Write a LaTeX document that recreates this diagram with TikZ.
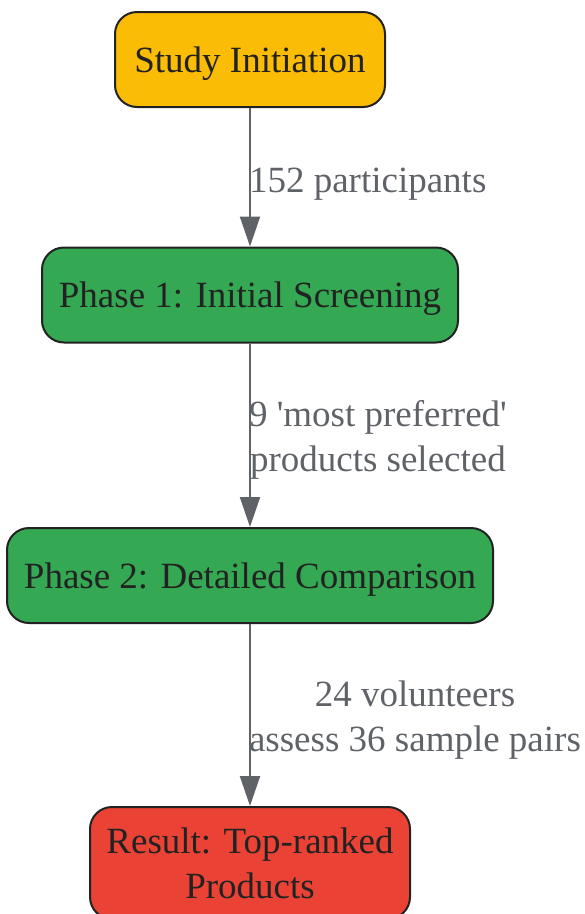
\documentclass[tikz,border=0pt]{standalone}
\usepackage{fontspec}
\setmainfont{Liberation Serif}
\usetikzlibrary{arrows.meta}
\definecolor{startyellow}{HTML}{FBBC05}
\definecolor{phasegreen}{HTML}{34A853}
\definecolor{resultred}{HTML}{EA4335}
\definecolor{edgegray}{HTML}{5F6368}
\definecolor{inkdark}{HTML}{222222}
\begin{document}
\begin{tikzpicture}[x=1pt, y=-1pt, >={Triangle[length=30pt,width=20pt]},
  font=\fontsize{37}{45}\selectfont, line join=round,
  stage/.style={draw=inkdark, line width=2pt, rounded corners=22pt, text=inkdark,
    align=center, minimum height=95pt, inner sep=0pt, text depth=0pt},
  flow/.style={->, draw=edgegray, line width=2pt},
  note/.style={text=edgegray, align=center, anchor=west, inner sep=0pt, xshift=-2pt}]
\useasboundingbox (0,0) rectangle (585,914);
\node[stage, fill=startyellow, minimum width=270pt] (start) at (250,59.5) {Study Initiation};
\node[stage, fill=phasegreen, minimum width=416pt] (screen) at (250,295) {Phase 1: Initial Screening};
\node[stage, fill=phasegreen, minimum width=486pt] (compare) at (250,575.5) {Phase 2: Detailed Comparison};
\node[stage, fill=resultred, minimum width=320pt, minimum height=112pt] (result) at (250,863)
  {Result: Top-ranked\\Products};
\draw[flow] (start) -- (screen) node[midway, note, yshift=-7pt] {152 participants};
\draw[flow] (screen) -- (compare) node[midway, note, yshift=-5pt]
  {9 \textquotesingle most preferred\textquotesingle\\products selected};
\draw[flow] (compare) -- (result) node[midway, note, yshift=-5pt]
  {24 volunteers\\assess 36 sample pairs};
\end{tikzpicture}
\end{document}
